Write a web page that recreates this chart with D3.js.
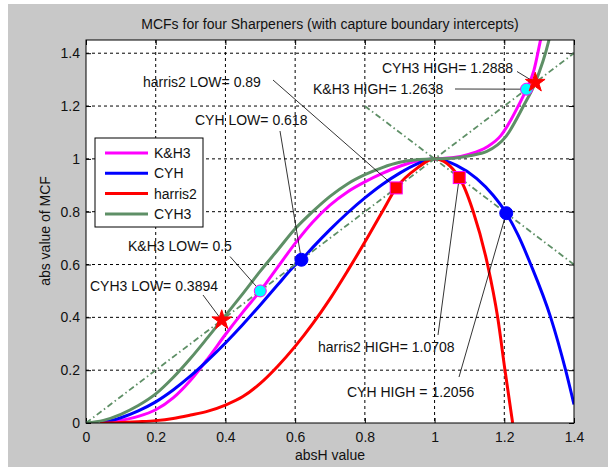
<!DOCTYPE html>
<html>
<head>
<meta charset="utf-8">
<script src="https://cdn.jsdelivr.net/npm/d3@7"></script>
<style>
  body { margin: 0; background: #fff; }
  svg text { font-family: "Liberation Sans", Arial, sans-serif; font-size: 14px; fill: #111; }
  .grid line { stroke: #000; stroke-width: 1; stroke-dasharray: 3,3; }
  .tick line { stroke: #000; }
</style>
</head>
<body>
<script>
// values: [absH, |MCF|]
var khData = [[0.04,0],[0.1,0.01],[0.15,0.025],[0.2,0.05],[0.25,0.095],[0.3,0.162],[0.35,0.245],
  [0.4,0.335],[0.45,0.42],[0.5,0.5],[0.55,0.59],[0.6,0.68],[0.65,0.76],[0.7,0.825],[0.75,0.875],
  [0.8,0.913],[0.85,0.945],[0.9,0.972],[0.95,0.992],[1.0,1.0],[1.05,1.004],[1.1,1.018],[1.15,1.045],
  [1.19,1.088],[1.22,1.15],[1.24,1.2],[1.2638,1.2638],[1.285,1.335],[1.303,1.444],[1.32,1.55]];
var cyhData = [[0.045,0],[0.1,0.02],[0.15,0.046],[0.2,0.08],[0.25,0.125],[0.3,0.178],[0.35,0.238],
  [0.4,0.303],[0.45,0.373],[0.5,0.447],[0.55,0.523],[0.6,0.598],[0.618,0.618],[0.65,0.664],[0.7,0.732],
  [0.75,0.795],[0.8,0.852],[0.85,0.903],[0.9,0.946],[0.95,0.981],[1.0,1.0],[1.063,0.975],[1.121,0.925],
  [1.168,0.862],[1.2056,0.7944],[1.24,0.71],[1.276,0.6],[1.333,0.4],[1.376,0.2],[1.4,0.07]];
var harrisData = [[0.04,0],[0.1,0.002],[0.15,0.005],[0.2,0.009],[0.25,0.017],[0.3,0.03],[0.35,0.045],
  [0.4,0.068],[0.45,0.1],[0.5,0.15],[0.55,0.215],[0.6,0.29],[0.65,0.375],[0.7,0.47],[0.75,0.575],
  [0.8,0.685],[0.85,0.8],[0.89,0.89],[0.95,0.965],[1.0,1.0],[1.0708,0.9292],[1.111,0.8],
  [1.152,0.6],[1.181,0.4],[1.202,0.2],[1.224,0]];
var cyh3Data = [[0,0],[0.05,0.01],[0.1,0.033],[0.15,0.066],[0.2,0.11],[0.25,0.172],[0.3,0.245],
  [0.35,0.325],[0.3894,0.3894],[0.45,0.49],[0.5,0.575],[0.55,0.655],[0.6,0.735],[0.65,0.8],[0.7,0.858],
  [0.75,0.905],[0.8,0.94],[0.85,0.967],[0.9,0.987],[0.95,0.997],[1.0,1.0],[1.05,1.002],[1.1,1.012],
  [1.15,1.028],[1.205,1.085],[1.255,1.2],[1.2888,1.2888],[1.327,1.444],[1.34,1.52]];

// capture boundaries
var boundUp = [[0,0],[1.4,1.4]];
var boundDown = [[0.8,1.2],[1.4,0.6]];

var seriesNames = ["K&H3","CYH","harris2","CYH3"];
var seriesColors = ["#ff00ff","#0000ff","#ff0000","#5e8f66"];

// intercept markers
var khPts = [[0.5,0.5],[1.2638,1.2638]];
var cyhPts = [[0.618,0.618],[1.2056,0.7944]];
var harrisPts = [[0.89,0.89],[1.0708,0.9292]];
var cyh3Pts = [[0.3894,0.3894],[1.2888,1.2888]];

// annotation text: label, text left/centre (px), line end near text (px), data point
var noteText = ["CYH3 HIGH= 1.2888","K&H3 HIGH= 1.2638","harris2 LOW= 0.89","CYH LOW= 0.618",
  "K&H3 LOW= 0.5","CYH3 LOW= 0.3894","harris2 HIGH= 1.0708","CYH HIGH = 1.2056"];
var notePos = [[382,68],[313,89],[143,82],[195,120],[128,246],[90,286],[318,347],[347,392]];
var noteFrom = [[517,71.5],[455,89],[273,80],[280,131],[230,256.5],[203,295],[438,335],[459,377]];
var noteTo = [cyh3Pts[1],khPts[1],harrisPts[0],cyhPts[0],khPts[0],cyh3Pts[0],harrisPts[1],cyhPts[1]];

var xTicks = [0,0.2,0.4,0.6,0.8,1,1.2,1.4];
var xTickLabels = ["0","0.2","0.4","0.6","0.8","1","1.2","1.4"];
var yTicks = [0,0.2,0.4,0.6,0.8,1,1.2,1.4];
var yTickLabels = ["0","0.2","0.4","0.6","0.8","1","1.2","1.4"];

var width = 608, height = 467;
var svg = d3.select("body").append("svg").attr("width", width).attr("height", height);

// grey figure background
svg.append("rect").attr("x", 8).attr("y", 4).attr("width", width - 8).attr("height", height - 4)
  .attr("fill", "#c8c8c8");

var x = d3.scaleLinear().domain([0, 1.4]).range([86, 574]);
var y = d3.scaleLinear().domain([0, 1.45]).range([423, 40]);

svg.append("rect").attr("x", 86).attr("y", 40).attr("width", 488).attr("height", 383).attr("fill", "#fff");

svg.append("defs").append("clipPath").attr("id", "clip")
  .append("rect").attr("x", 86).attr("y", 40).attr("width", 488).attr("height", 383);

//grid
var grid = svg.append("g").attr("class", "grid");
grid.selectAll(".gx").data(xTicks.slice(1, -1)).enter().append("line")
  .attr("x1", d => x(d)).attr("x2", d => x(d)).attr("y1", 40).attr("y2", 423);
grid.selectAll(".gy").data(yTicks.slice(1)).enter().append("line")
  .attr("x1", 86).attr("x2", 574).attr("y1", d => y(d)).attr("y2", d => y(d));

//axes
svg.append("g").attr("transform", "translate(0,423)")
  .call(d3.axisBottom(x).tickValues(xTicks).tickFormat((d, i) => xTickLabels[i])
    .tickSizeInner(-5).tickSizeOuter(0).tickPadding(9));
svg.append("g").attr("transform", "translate(86,0)")
  .call(d3.axisLeft(y).tickValues(yTicks).tickFormat((d, i) => yTickLabels[i])
    .tickSizeInner(-5).tickSizeOuter(0).tickPadding(6));
svg.append("g").attr("transform", "translate(0,40)")
  .call(d3.axisTop(x).tickValues(xTicks).tickFormat("").tickSizeInner(-5).tickSizeOuter(0));
svg.append("g").attr("transform", "translate(574,0)")
  .call(d3.axisRight(y).tickValues(yTicks).tickFormat("").tickSizeInner(-5).tickSizeOuter(0));
svg.selectAll(".domain").remove();
svg.selectAll(".tick text").style("font-family", "Liberation Sans, Arial, sans-serif").style("font-size", "14px").attr("fill", "#111");

var line = d3.line().x(d => x(d[0])).y(d => y(d[1])).curve(d3.curveMonotoneX);
var plot = svg.append("g").attr("clip-path", "url(#clip)");

[khData, cyhData, harrisData, cyh3Data].forEach(function(s, i){
  plot.append("path").datum(s).attr("d", line).attr("fill", "none")
    .attr("stroke", seriesColors[i]).attr("stroke-width", 3).attr("stroke-linejoin", "round");
});

//capture boundary lines
[boundUp, boundDown].forEach(function(b){
  plot.append("path").datum(b).attr("d", d3.line().x(d => x(d[0])).y(d => y(d[1])))
    .attr("stroke", seriesColors[3]).attr("stroke-width", 1.8).attr("fill", "none")
    .attr("stroke-dasharray", "6,3,1.5,3");
});

//annotation lines
var notes = svg.append("g");
noteText.forEach(function(t, i){
  notes.append("line").attr("x1", noteFrom[i][0]).attr("y1", noteFrom[i][1])
    .attr("x2", x(noteTo[i][0])).attr("y2", y(noteTo[i][1]))
    .attr("stroke", "#000").attr("stroke-width", 0.8);
  notes.append("text").attr("x", notePos[i][0]).attr("y", notePos[i][1] + 5).text(t);
});

//markers
var mk = svg.append("g");
mk.selectAll(".kh").data(khPts).enter().append("circle")
  .attr("cx", d => x(d[0])).attr("cy", d => y(d[1])).attr("r", 6)
  .attr("fill", "#00ffff").attr("stroke", "#ff00ff").attr("stroke-width", 1);
mk.selectAll(".cyh").data(cyhPts).enter().append("circle")
  .attr("cx", d => x(d[0])).attr("cy", d => y(d[1])).attr("r", 6.5)
  .attr("fill", "#0000ff").attr("stroke", "#0000ff");
mk.selectAll(".har").data(harrisPts).enter().append("rect")
  .attr("x", d => x(d[0]) - 6).attr("y", d => y(d[1]) - 6).attr("width", 12).attr("height", 12)
  .attr("fill", "#ff0000").attr("stroke", "#ff00ff").attr("stroke-width", 1);
mk.selectAll(".cy3").data(cyh3Pts).enter().append("path")
  .attr("transform", d => "translate(" + x(d[0]) + "," + y(d[1]) + ")")
  .attr("d", d3.symbol().type(d3.symbolStar).size(120))
  .attr("fill", "#ff0000").attr("stroke", "#ff0000");

//frame
svg.append("rect").attr("x", 86).attr("y", 40).attr("width", 488).attr("height", 383)
  .attr("fill", "none").attr("stroke", "#000").attr("stroke-width", 1);

//legend
var leg = svg.append("g");
leg.append("rect").attr("x", 95).attr("y", 138).attr("width", 108).attr("height", 89)
  .attr("fill", "#fff").attr("stroke", "#000");
seriesNames.forEach(function(n, i){
  var ly = 153 + i * 20.3;
  leg.append("line").attr("x1", 105).attr("x2", 148).attr("y1", ly).attr("y2", ly)
    .attr("stroke", seriesColors[i]).attr("stroke-width", 3);
  leg.append("text").attr("x", 154).attr("y", ly + 5).text(n);
});

//titles
svg.append("text").attr("x", 330).attr("y", 29).attr("text-anchor", "middle")
  .text("MCFs for four Sharpeners (with capture boundary intercepts)");
svg.append("text").attr("x", 330).attr("y", 460).attr("text-anchor", "middle").text("absH value");
svg.append("text").attr("transform", "translate(50,231) rotate(-90)").attr("text-anchor", "middle")
  .text("abs value of MCF");
</script>
</body>
</html>
